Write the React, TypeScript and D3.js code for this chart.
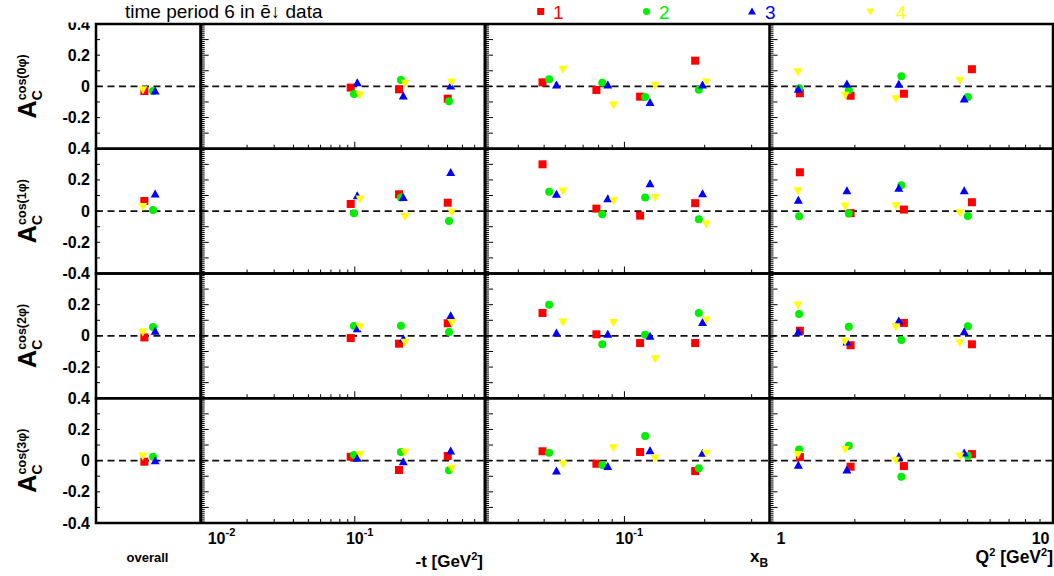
import React from "react";
import * as d3 from "d3";

const FONT = "'Liberation Sans', Arial, Helvetica, sans-serif";

// ---- title ----
const TITLE = "time period 6 in ē↓ data";

// ---- series ----
const SERIES_NAMES = ["1", "2", "3", "4"];
const SERIES_COLORS = ["#ff0000", "#00ee00", "#0000ff", "#ffff00"];
const SERIES_SHAPES = ["square", "circle", "triangleUp", "triangleDown"];

// ---- rows (harmonics) ----
const HARMONICS = ["0", "1", "2", "3"];

// ---- y axis ----
const Y_DOMAIN = [-0.4, 0.4];
const Y_INNER_TICK_VALUES = [-0.2, 0, 0.2];
const Y_INNER_TICK_LABELS = ["-0.2", "0", "0.2"];
// label visible at each row boundary (top of row 0 ... bottom of row 3)
const BOUNDARY_LABELS = ["0.4", "0.4", "-0.4", "0.4", "-0.4"];

// ---- x axes ----
const T_DOMAIN = [0.01, 0.7];
const XB_DOMAIN = [0.03, 0.35];
const Q2_DOMAIN = [1, 10];
const T_TICK_LABELS = [
  { value: 0.01, base: "10", exp: "-2" },
  { value: 0.1, base: "10", exp: "-1" },
];
const XB_TICK_LABELS = [{ value: 0.1, base: "10", exp: "-1" }];
const Q2_TICK_LABELS = [
  { value: 1, base: "1", exp: "" },
  { value: 10, base: "10", exp: "" },
];

// ---- x positions [series][bin] ----
const OVERALL_X = [0.462, 0.545, 0.565, 0.447];
const T_X = [
  [0.0941, 0.1936, 0.401],
  [0.0988, 0.1994, 0.4087],
  [0.1038, 0.2064, 0.419],
  [0.1081, 0.2117, 0.4254],
];
const XB_X = [
  [0.0493, 0.0785, 0.1145, 0.1842],
  [0.0522, 0.0826, 0.1196, 0.1901],
  [0.0556, 0.0866, 0.1247, 0.1963],
  [0.0588, 0.0909, 0.1304, 0.2026],
];
const Q2_X = [
  [1.28, 1.932, 2.979, 5.176],
  [1.272, 1.904, 2.917, 5.01],
  [1.264, 1.875, 2.858, 4.862],
  [1.26, 1.848, 2.789, 4.692],
];

// ---- asymmetry values ----
// OVERALL_Y[row][series]
const OVERALL_Y = [
  [-0.03, -0.03, -0.03, -0.022],
  [0.065, 0.008, 0.11, 0.029],
  [-0.01, 0.057, 0.029, 0.025],
  [-0.007, 0.025, 0.0, 0.03],
];
// T_Y[row][series][bin]
const T_Y = [
  [[-0.008, -0.019, -0.079], [-0.049, 0.041, -0.096], [0.024, -0.062, 0.003], [-0.055, 0.02, 0.028]],
  [[0.046, 0.108, 0.054], [-0.013, 0.087, -0.063], [0.099, 0.087, 0.247], [0.078, -0.035, -0.007]],
  [[-0.014, -0.05, 0.081], [0.063, 0.065, 0.025], [0.046, -0.018, 0.129], [0.059, -0.041, 0.085]],
  [[0.025, -0.06, 0.03], [0.036, 0.055, -0.062], [0.015, -0.007, 0.062], [0.04, 0.053, -0.049]],
];
const XB_Y = [
  [[0.026, -0.023, -0.066, 0.165], [0.045, 0.024, -0.068, -0.021], [0.009, 0.009, -0.104, 0.009], [0.11, -0.119, 0.007, 0.028]],
  [[0.3, 0.016, -0.029, 0.051], [0.125, -0.02, 0.087, -0.052], [0.108, 0.08, 0.176, 0.112], [0.129, 0.067, 0.087, -0.082]],
  [[0.147, 0.01, -0.046, -0.046], [0.2, -0.054, 0.008, 0.147], [0.019, 0.01, -0.003, 0.085], [0.089, 0.085, -0.146, 0.102]],
  [[0.06, -0.02, 0.055, -0.067], [0.051, -0.028, 0.158, -0.049], [-0.067, -0.037, 0.064, 0.047], [-0.022, 0.083, 0.015, 0.047]],
];
const Q2_Y = [
  [[-0.044, -0.06, -0.047, 0.11], [-0.012, -0.025, 0.065, -0.068], [-0.019, 0.015, 0.013, -0.081], [0.094, -0.057, -0.079, 0.039]],
  [[0.249, -0.013, 0.01, 0.057], [-0.033, -0.016, 0.166, -0.031], [0.07, 0.131, 0.147, 0.13], [0.13, 0.033, 0.035, -0.01]],
  [[0.033, -0.06, 0.083, -0.054], [0.14, 0.059, -0.026, 0.062], [0.025, -0.039, 0.095, 0.027], [0.198, -0.035, 0.059, -0.044]],
  [[0.023, -0.039, -0.035, 0.042], [0.072, 0.096, -0.103, 0.031], [-0.03, -0.06, 0.025, 0.049], [0.04, 0.072, 0.002, 0.03]],
];
const ERR = 0.02;

// ---- layout ----
const W = 1054;
const H = 576;
const X_EDGES = [96, 200.7, 485, 769.5, 1053];
const ROW_TOP = 24;
const ROW_H = 124.75;

function Marker({ shape, x, y, color, s = 4 }) {
  if (shape === "square") return <rect x={x - s} y={y - s} width={2 * s} height={2 * s} fill={color} />;
  if (shape === "circle") return <circle cx={x} cy={y} r={s} fill={color} />;
  if (shape === "triangleUp")
    return <path d={`M${x},${y - s - 0.5}L${x - s - 0.5},${y + s - 0.5}L${x + s + 0.5},${y + s - 0.5}Z`} fill={color} />;
  return <path d={`M${x},${y + s + 0.5}L${x - s - 0.5},${y - s + 0.5}L${x + s + 0.5},${y - s + 0.5}Z`} fill={color} />;
}

function logTicks(domain) {
  const [a, b] = domain;
  const out = [];
  for (let k = Math.floor(Math.log10(a)); k <= Math.ceil(Math.log10(b)); k++) {
    for (let m = 1; m <= 9; m++) {
      const v = +(m * Math.pow(10, k)).toPrecision(6);
      if (v >= a * 0.999 && v <= b * 1.001) out.push({ v, major: m === 1 });
    }
  }
  return out;
}

function Row({ r }) {
  const top = ROW_TOP + r * ROW_H;
  const bottom = top + ROW_H;
  const y = d3.scaleLinear().domain(Y_DOMAIN).range([bottom, top]);
  const xO = d3.scaleLinear().domain([0, 1]).range([X_EDGES[0], X_EDGES[1]]);
  const xT = d3.scaleLog().domain(T_DOMAIN).range([X_EDGES[1], X_EDGES[2]]);
  const xB = d3.scaleLog().domain(XB_DOMAIN).range([X_EDGES[2], X_EDGES[3]]);
  const xQ = d3.scaleLog().domain(Q2_DOMAIN).range([X_EDGES[3], X_EDGES[4]]);
  const logPanels = [
    { sx: xT, X: T_X, Y: T_Y[r], dom: T_DOMAIN },
    { sx: xB, X: XB_X, Y: XB_Y[r], dom: XB_DOMAIN },
    { sx: xQ, X: Q2_X, Y: Q2_Y[r], dom: Q2_DOMAIN },
  ];
  const fine = d3.range(-0.4, 0.4001, 0.0125);
  const tenth = d3.range(-0.4, 0.4001, 0.1);
  const y0 = y(0);
  return (
    <g>
      {/* y tick labels */}
      {Y_INNER_TICK_VALUES.map((v, i) => (
        <text key={i} x={90} y={y(v) + 5.5} textAnchor="end" fontFamily={FONT} fontWeight="bold" fontSize={16}>
          {Y_INNER_TICK_LABELS[i]}
        </text>
      ))}
      {/* y title */}
      <text transform={`translate(36, ${y0 + 32}) rotate(-90)`} fontFamily={FONT} fontWeight="bold">
        <tspan fontSize={25}>A</tspan>
        <tspan fontSize={14} dy={6}>C</tspan>
        <tspan fontSize={12.5} dx={-10} dy={-16}>{`cos(${HARMONICS[r]}φ)`}</tspan>
      </text>
      {/* zero dashed lines */}
      {[0, 1, 2, 3].map((p) => (
        <line key={p} x1={X_EDGES[p]} x2={X_EDGES[p + 1]} y1={y0} y2={y0} stroke="#111" strokeWidth={1.6} strokeDasharray="7 4.5" />
      ))}
      {/* left ticks overall */}
      {tenth.map((v, i) => (
        <line key={"o" + i} x1={X_EDGES[0]} x2={X_EDGES[0] + 4} y1={y(v)} y2={y(v)} stroke="#000" strokeWidth={1} />
      ))}
      {/* left ticks of other panels */}
      {[1, 2, 3].map((p) => (
        <g key={"lt" + p}>
          {fine.map((v, i) => (
            <line key={i} x1={X_EDGES[p]} x2={X_EDGES[p] + (i % 8 === 0 ? 8 : 4)} y1={y(v)} y2={y(v)} stroke="#000" strokeWidth={1} />
          ))}
        </g>
      ))}
      {/* bottom ticks */}
      {logPanels.map((P, p) => (
        <g key={"bt" + p}>
          {logTicks(P.dom).map((t, i) => (
            <line key={i} x1={P.sx(t.v)} x2={P.sx(t.v)} y1={bottom} y2={bottom - (t.major ? 7 : 4)} stroke="#000" strokeWidth={1} />
          ))}
        </g>
      ))}
      {/* frame */}
      <rect x={X_EDGES[0]} y={top} width={X_EDGES[4] - X_EDGES[0]} height={ROW_H} fill="none" stroke="#000" strokeWidth={2.5} />
      {[1, 2, 3].map((p) => (
        <line key={"v" + p} x1={X_EDGES[p]} x2={X_EDGES[p]} y1={top} y2={bottom} stroke="#000" strokeWidth={p === 3 ? 2.5 : 3} />
      ))}
      {/* data */}
      {SERIES_NAMES.map((_, s) => (
        <g key={"s" + s}>
          <line x1={xO(OVERALL_X[s])} x2={xO(OVERALL_X[s])} y1={y(OVERALL_Y[r][s] - ERR)} y2={y(OVERALL_Y[r][s] + ERR)} stroke={SERIES_COLORS[s]} strokeWidth={1.5} />
          <Marker shape={SERIES_SHAPES[s]} x={xO(OVERALL_X[s])} y={y(OVERALL_Y[r][s])} color={SERIES_COLORS[s]} />
          {logPanels.map((P, p) =>
            P.Y[s].map((v, b) => {
              const px = P.sx(P.X[s][b]);
              return (
                <g key={p + "-" + b}>
                  <line x1={px} x2={px} y1={y(v - ERR)} y2={y(v + ERR)} stroke={SERIES_COLORS[s]} strokeWidth={1.5} />
                  <Marker shape={SERIES_SHAPES[s]} x={px} y={y(v)} color={SERIES_COLORS[s]} />
                </g>
              );
            })
          )}
        </g>
      ))}
    </g>
  );
}

function AxisLabel({ x, base, exp, anchor }) {
  const baseW = 8.9 * base.length;
  let sx = x - baseW / 2;
  let ta = "start";
  if (anchor === "min") sx = x + 7;
  if (anchor === "max") {
    sx = x - 3.5;
    ta = "end";
  }
  return (
    <text x={sx} y={544} textAnchor={ta} fontFamily={FONT} fontWeight="bold" fontSize={16}>
      {base}
      {exp && (
        <tspan fontSize={11} dy={-8}>
          {exp}
        </tspan>
      )}
    </text>
  );
}

export default function App() {
  const xT = d3.scaleLog().domain(T_DOMAIN).range([X_EDGES[1], X_EDGES[2]]);
  const xB = d3.scaleLog().domain(XB_DOMAIN).range([X_EDGES[2], X_EDGES[3]]);
  const xQ = d3.scaleLog().domain(Q2_DOMAIN).range([X_EDGES[3], X_EDGES[4]]);
  const axes = [
    { sx: xT, labels: T_TICK_LABELS, dom: T_DOMAIN },
    { sx: xB, labels: XB_TICK_LABELS, dom: XB_DOMAIN },
    { sx: xQ, labels: Q2_TICK_LABELS, dom: Q2_DOMAIN },
  ];
  const legendX = [540.7, 646.5, 752, 870.4];
  const legendTextX = [553, 659, 765, 896];
  return (
    <svg width={W} height={H} style={{ position: "absolute", left: 0, top: 0, display: "block", background: "#fff" }}>
      <rect x={0} y={0} width={W} height={H} fill="#fff" />
      {[0, 1, 2, 3].map((r) => (
        <Row key={r} r={r} />
      ))}
      {/* row-boundary y labels */}
      {BOUNDARY_LABELS.map((l, i) => (
        <text key={"bl" + i} x={90} y={ROW_TOP + i * ROW_H + 5.5} textAnchor="end" fontFamily={FONT} fontWeight="bold" fontSize={16}>
          {l}
        </text>
      ))}
      <rect x={0} y={0} width={93} height={22.5} fill="#fff" />
      {/* title */}
      <text x={125} y={18} fontFamily={FONT} fontSize={19}>
        {TITLE}
      </text>
      {/* legend */}
      {SERIES_NAMES.map((n, s) => (
        <g key={n}>
          <Marker shape={SERIES_SHAPES[s]} x={legendX[s]} y={11.5} color={SERIES_COLORS[s]} s={3.5} />
          <text x={legendTextX[s]} y={19} fontFamily={FONT} fontSize={19} fill={SERIES_COLORS[s]}>
            {n}
          </text>
        </g>
      ))}
      {/* x axis labels */}
      {axes.map((A, i) =>
        A.labels.map((l, j) => {
          const anchor = l.value === A.dom[0] ? "min" : l.value === A.dom[1] ? "max" : "mid";
          return <AxisLabel key={i + "-" + j} x={A.sx(l.value)} base={l.base} exp={l.exp} anchor={anchor} />;
        })
      )}
      <text x={147.5} y={562} textAnchor="middle" fontFamily={FONT} fontWeight="bold" fontSize={13}>
        overall
      </text>
      <text x={483} y={567} textAnchor="end" fontFamily={FONT} fontWeight="bold" fontSize={17}>
        -t [GeV<tspan fontSize={11} dy={-7}>2</tspan>
        <tspan dy={7}>]</tspan>
      </text>
      <text x={750} y={562} fontFamily={FONT} fontWeight="bold" fontSize={17}>
        x<tspan fontSize={12} dy={5}>B</tspan>
      </text>
      <text x={1053} y={563} textAnchor="end" fontFamily={FONT} fontWeight="bold" fontSize={17.5}>
        Q<tspan fontSize={11} dy={-7}>2</tspan>
        <tspan dy={7}> [GeV</tspan>
        <tspan fontSize={11} dy={-7}>2</tspan>
        <tspan dy={7}>]</tspan>
      </text>
    </svg>
  );
}
